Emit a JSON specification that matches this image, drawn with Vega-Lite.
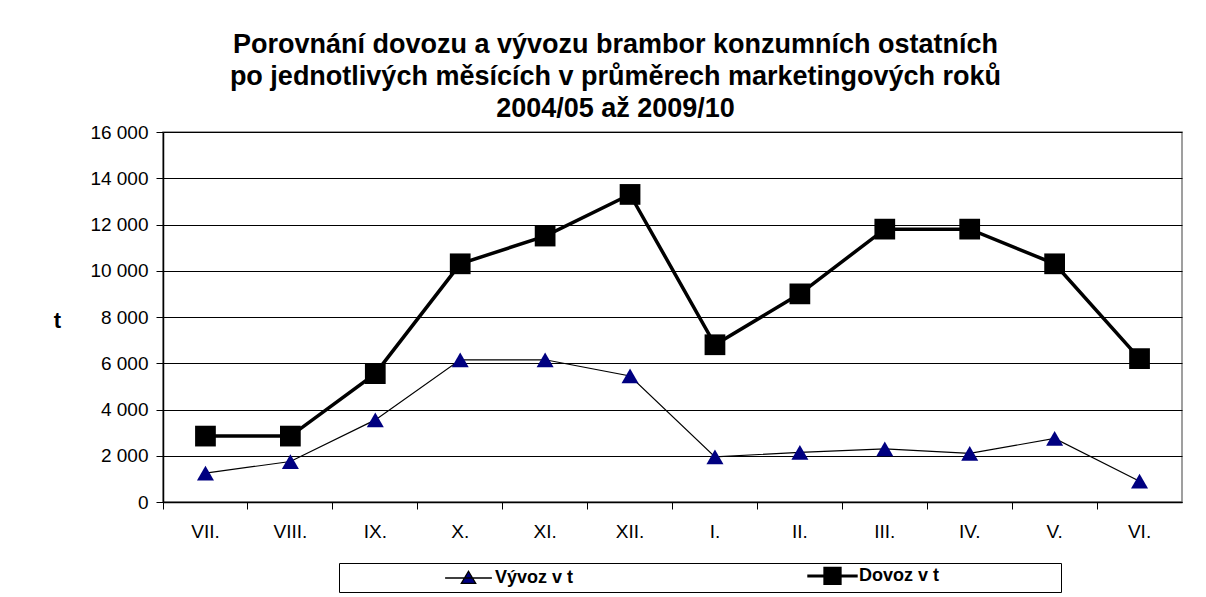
{
  "$schema": "https://vega.github.io/schema/vega-lite/v6.json",
  "width": 1019,
  "height": 370,
  "autosize": {"type": "none"},
  "padding": {"left": 163, "top": 132, "right": 24, "bottom": 95},
  "background": "white",
  "config": {
    "view": {"stroke": "#808080", "strokeWidth": 1.5},
    "font": "Liberation Sans"
  },
  "title": {
    "text": ["Porovnání dovozu a vývozu brambor konzumních ostatních", "po jednotlivých měsících v průměrech marketingových roků", "2004/05 až 2009/10"],
    "font": "Liberation Sans",
    "fontSize": 27,
    "fontWeight": "bold",
    "color": "black",
    "lineHeight": 32,
    "anchor": "middle",
    "dx": -57,
    "offset": 0
  },
  "data": {
    "values": [
      {"month": "VII.", "series": "Vývoz v t", "value": 1250},
      {"month": "VIII.", "series": "Vývoz v t", "value": 1750},
      {"month": "IX.", "series": "Vývoz v t", "value": 3550},
      {"month": "X.", "series": "Vývoz v t", "value": 6150},
      {"month": "XI.", "series": "Vývoz v t", "value": 6150},
      {"month": "XII.", "series": "Vývoz v t", "value": 5450},
      {"month": "I.", "series": "Vývoz v t", "value": 1950},
      {"month": "II.", "series": "Vývoz v t", "value": 2150},
      {"month": "III.", "series": "Vývoz v t", "value": 2300},
      {"month": "IV.", "series": "Vývoz v t", "value": 2100},
      {"month": "V.", "series": "Vývoz v t", "value": 2750},
      {"month": "VI.", "series": "Vývoz v t", "value": 900},
      {"month": "VII.", "series": "Dovoz v t", "value": 2850},
      {"month": "VIII.", "series": "Dovoz v t", "value": 2850},
      {"month": "IX.", "series": "Dovoz v t", "value": 5550},
      {"month": "X.", "series": "Dovoz v t", "value": 10300},
      {"month": "XI.", "series": "Dovoz v t", "value": 11500},
      {"month": "XII.", "series": "Dovoz v t", "value": 13300},
      {"month": "I.", "series": "Dovoz v t", "value": 6800},
      {"month": "II.", "series": "Dovoz v t", "value": 9000},
      {"month": "III.", "series": "Dovoz v t", "value": 11800},
      {"month": "IV.", "series": "Dovoz v t", "value": 11800},
      {"month": "V.", "series": "Dovoz v t", "value": 10300},
      {"month": "VI.", "series": "Dovoz v t", "value": 6200}
    ]
  },
  "encoding": {
    "x": {
      "field": "month",
      "type": "ordinal",
      "sort": ["VII.", "VIII.", "IX.", "X.", "XI.", "XII.", "I.", "II.", "III.", "IV.", "V.", "VI."],
      "scale": {"type": "band", "paddingInner": 0, "paddingOuter": 0},
      "axis": {
        "title": null,
        "labelAngle": 0,
        "bandPosition": 0,
        "grid": false,
        "domainColor": "black",
        "domainWidth": 1.5,
        "tickColor": "black",
        "tickSize": 7,
        "labelFont": "Liberation Sans",
        "labelFontSize": 19,
        "labelColor": "black",
        "labelPadding": 13
      }
    },
    "y": {
      "field": "value",
      "type": "quantitative",
      "scale": {"domain": [0, 16000], "nice": false},
      "axis": {
        "values": [0, 2000, 4000, 6000, 8000, 10000, 12000, 14000, 16000],
        "labelExpr": "replace(format(datum.value, ','), ',', ' ')",
        "grid": true,
        "gridColor": "black",
        "gridWidth": 1,
        "domainColor": "black",
        "domainWidth": 1.5,
        "tickColor": "black",
        "tickSize": 7,
        "labelFont": "Liberation Sans",
        "labelFontSize": 19,
        "labelColor": "black",
        "labelPadding": 8,
        "title": "t",
        "titleAngle": 0,
        "titleFont": "Liberation Sans",
        "titleFontSize": 22,
        "titleFontWeight": "bold",
        "titleColor": "black",
        "titleAlign": "center",
        "titleBaseline": "middle",
        "titleX": -106,
        "titleY": 188
      }
    }
  },
  "layer": [
    {
      "mark": {"type": "line", "color": "black"},
      "encoding": {
        "detail": {"field": "series", "type": "nominal"},
        "strokeWidth": {"condition": {"test": "datum.series === 'Dovoz v t'", "value": 3.5}, "value": 1.2}
      }
    },
    {
      "mark": {"type": "point", "filled": true, "opacity": 1},
      "encoding": {
        "color": {"condition": {"test": "datum.series === 'Dovoz v t'", "value": "#000000"}, "value": "#000080"},
        "shape": {"condition": {"test": "datum.series === 'Dovoz v t'", "value": "square"}, "value": "triangle-up"},
        "size": {"condition": {"test": "datum.series === 'Dovoz v t'", "value": 430}, "value": 290}
      }
    },
    {
      "transform": [{"filter": "false"}],
      "mark": {"type": "point", "filled": true, "opacity": 1, "stroke": "#000000"},
      "encoding": {
        "color": {
          "field": "series",
          "type": "nominal",
          "scale": {"domain": ["Vývoz v t", "Dovoz v t"], "range": ["#000080", "#000000"]},
          "legend": {
            "orient": "none",
            "legendX": 176,
            "legendY": 431,
            "direction": "horizontal",
            "columns": 2,
            "title": null,
            "strokeColor": "black",
            "fillColor": "white",
            "padding": 2,
            "labelFont": "Liberation Sans",
            "labelFontSize": 18,
            "labelFontWeight": "bold",
            "labelColor": "black",
            "symbolSize": 324,
            "symbolStrokeColor": "black",
            "symbolOpacity": 1,
            "symbolOffset": 117,
            "labelOffset": 16,
            "columnPadding": 131
          }
        },
        "shape": {
          "field": "series",
          "type": "nominal",
          "scale": {"domain": ["Vývoz v t", "Dovoz v t"], "range": ["M-2.6,0H2.6M0,-0.75L0.8,0.6H-0.8Z", "M-2.8,0H2.8M-0.85,-0.85H0.85V0.85H-0.85ZM24.4,0"]}
        },
        "strokeWidth": {
          "field": "series",
          "type": "nominal",
          "scale": {"domain": ["Vývoz v t", "Dovoz v t"], "range": [1.3, 3]}
        }
      }
    }
  ]
}
